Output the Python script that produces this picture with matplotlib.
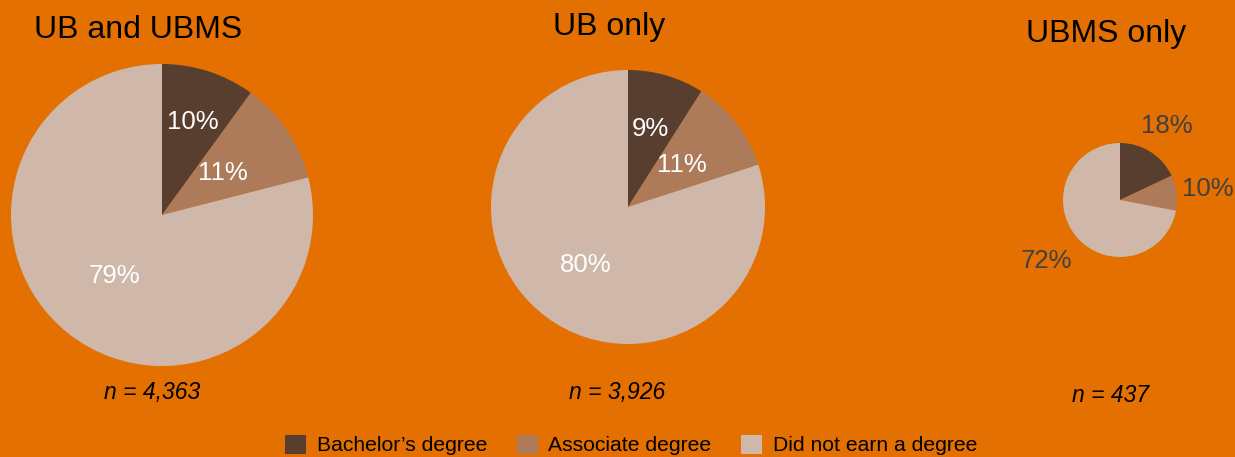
import numpy as np
import matplotlib
matplotlib.use("Agg")
import matplotlib.pyplot as plt

plt.rcParams["font.family"] = ["Liberation Sans", "DejaVu Sans"]

# data
titles = ["UB and UBMS", "UB only", "UBMS only"]
categories = ["Bachelor\u2019s degree", "Associate degree", "Did not earn a degree"]
shares = [
    [10, 11, 79],
    [9, 11, 80],
    [18, 10, 72],
]
n_labels = ["n = 4,363", "n = 3,926", "n = 437"]

colors = ["#583E2E", "#AD7B5A", "#CFB8AA"]
bg = "#E37000"

# layout in pixel coordinates (x, y-down)
centers = [(162, 215), (628, 207), (1120, 200)]
radii = [151, 137, 57]
title_pos = [(138, 30), (609, 27), (1106, 34)]
n_pos = [(152, 393), (617, 393), (1111, 396)]
label_dist = [
    [0.65, 0.49, 0.51],
    [0.59, 0.50, 0.52],
    [1.53, 1.55, 1.68],
]
label_color = ["white", "white", "#404040"]

fig = plt.figure(figsize=(12.35, 4.57), dpi=100, facecolor=bg)
ax = fig.add_axes([0, 0, 1, 1])
ax.set_facecolor(bg)

handles = None
for i, vals in enumerate(shares):
    cx, cy = centers[i]
    r = radii[i]
    # y axis is inverted, so counterclock=True appears clockwise; start at top
    wedges, _ = ax.pie(vals, colors=colors, center=(cx, cy), radius=r,
                       startangle=-90, counterclock=True, frame=True,
                       wedgeprops=dict(linewidth=0))
    if handles is None:
        handles = wedges
    for j, w in enumerate(wedges):
        mid = np.deg2rad((w.theta1 + w.theta2) / 2)
        d = label_dist[i][j] * r
        ax.text(cx + d * np.cos(mid), cy + d * np.sin(mid), f"{vals[j]}%",
                ha="center", va="center", fontsize=18.5, color=label_color[i])
    ax.text(*title_pos[i], titles[i], ha="center", va="center",
            fontsize=23, color="black")
    ax.text(*n_pos[i], n_labels[i], ha="center", va="center",
            fontsize=16.5, style="italic", color="black")

ax.set_xlim(0, 1235)
ax.set_ylim(457, 0)
ax.set_aspect("equal")
ax.axis("off")

fig.legend(handles, categories, loc="center", bbox_to_anchor=(631 / 1235, 1 - 445 / 457),
           ncol=3, frameon=False, fontsize=15.2, handlelength=1.0, handleheight=1.0,
           handletextpad=0.5, columnspacing=1.4)

fig.savefig("out.png", dpi=100, facecolor=bg)
